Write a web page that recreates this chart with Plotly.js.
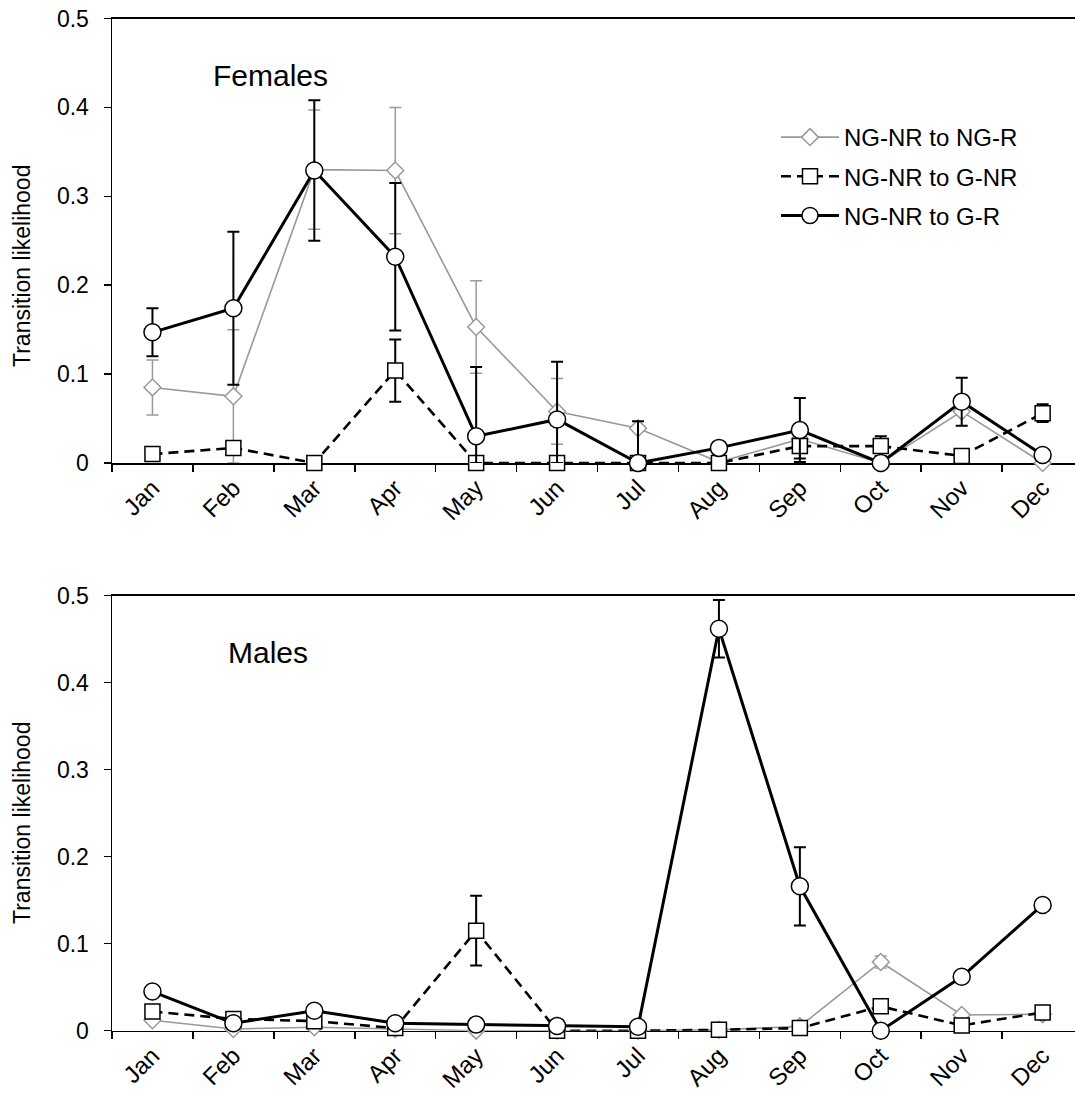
<!DOCTYPE html>
<html>
<head>
<meta charset="utf-8">
<script src="https://cdn.plot.ly/plotly-3.0.1.min.js"></script>
<style>html,body{margin:0;padding:0;background:#fff;}#chart{width:1075px;height:1097px;}</style>
</head>
<body>
<div id="chart"></div>
<script>
// ---------- data ----------
const months = ['Jan','Feb','Mar','Apr','May','Jun','Jul','Aug','Sep','Oct','Nov','Dec'];
const seriesNames = ['NG-NR to NG-R','NG-NR to G-NR','NG-NR to G-R'];

// Females
const fNGR      = [0.085, 0.075, 0.330, 0.329, 0.153, 0.058, 0.039, 0.001, 0.027, 0.000, 0.058, 0.000];
const fNGRerr   = [0.031, 0.075, 0.067, 0.071, 0.052, 0.037, 0,     0,     0,     0,     0,     0];
const fGNR      = [0.010, 0.017, 0.000, 0.104, 0.000, 0.000, 0.000, 0.000, 0.019, 0.019, 0.008, 0.056];
const fGNRerr   = [0,     0,     0,     0.035, 0,     0,     0,     0,     0.014, 0.011, 0,     0.010];
const fGR       = [0.147, 0.174, 0.329, 0.232, 0.030, 0.049, 0.000, 0.017, 0.037, 0.000, 0.069, 0.009];
const fGRerrUp  = [0.027, 0.086, 0.079, 0.083, 0.078, 0.065, 0.047, 0,     0.036, 0,     0.027, 0];
const fGRerrDn  = [0.027, 0.086, 0.079, 0.083, 0.030, 0.049, 0,     0,     0.036, 0,     0.027, 0];

// Males
const mNGR      = [0.012, 0.002, 0.004, 0.002, 0.000, 0.000, 0.000, 0.001, 0.005, 0.079, 0.018, 0.019];
const mNGRerr   = [0,     0,     0,     0,     0,     0,     0,     0,     0,     0.007, 0,     0];
const mGNR      = [0.022, 0.0135,0.011, 0.003, 0.115, 0.000, 0.000, 0.001, 0.003, 0.028, 0.006, 0.021];
const mGNRerr   = [0,     0,     0,     0,     0.040, 0,     0,     0,     0,     0,     0,     0];
const mGR       = [0.045, 0.0085,0.023, 0.0085,0.007, 0.0055,0.0046,0.462, 0.166, 0.000, 0.062, 0.1445];
const mGRerr    = [0,     0,     0,     0,     0,     0,     0,     0.033, 0.045, 0,     0,     0];

const yTicks = [0, 0.1, 0.2, 0.3, 0.4, 0.5];
const yTickText = ['0','0.1','0.2','0.3','0.4','0.5'];

// ---------- styles ----------
const GREY = '#999999';
const FONT = 'Liberation Sans, Arial, sans-serif';

function diamondTrace(y, err, xa, ya, show){
  return {x: months, y: y, xaxis: xa, yaxis: ya, name: seriesNames[0], legendgroup: 'g1', showlegend: show,
    type: 'scatter', mode: 'lines+markers', cliponaxis: false,
    line: {color: GREY, width: 1.6},
    marker: {symbol: 'diamond', size: 13, color: '#ffffff', line: {color: GREY, width: 1.5}},
    error_y: {type: 'data', array: err, visible: true, color: GREY, thickness: 1.5, width: 6}};
}
function squareTrace(y, err, xa, ya, show){
  return {x: months, y: y, xaxis: xa, yaxis: ya, name: seriesNames[1], legendgroup: 'g2', showlegend: show,
    type: 'scatter', mode: 'lines+markers', cliponaxis: false,
    line: {color: '#000000', width: 2.6, dash: '10px,6px'},
    marker: {symbol: 'square', size: 15, color: '#ffffff', line: {color: '#000000', width: 1.5}},
    error_y: {type: 'data', array: err, visible: true, color: '#000000', thickness: 2, width: 6}};
}
function circleTrace(y, errUp, errDn, xa, ya, show){
  return {x: months, y: y, xaxis: xa, yaxis: ya, name: seriesNames[2], legendgroup: 'g3', showlegend: show,
    type: 'scatter', mode: 'lines+markers', cliponaxis: false,
    line: {color: '#000000', width: 3},
    marker: {symbol: 'circle', size: 17, color: '#ffffff', line: {color: '#000000', width: 1.5}},
    error_y: {type: 'data', symmetric: false, array: errUp, arrayminus: errDn, visible: true, color: '#000000', thickness: 2, width: 6}};
}

const traces = [
  diamondTrace(fNGR, fNGRerr, 'x', 'y', true),
  squareTrace(fGNR, fGNRerr, 'x', 'y', true),
  circleTrace(fGR, fGRerrUp, fGRerrDn, 'x', 'y', true),
  diamondTrace(mNGR, mNGRerr, 'x2', 'y2', false),
  squareTrace(mGNR, mGNRerr, 'x2', 'y2', false),
  circleTrace(mGR, mGRerr, mGRerr, 'x2', 'y2', false)
];

const H = 1097, W = 1075, L = 112;
function py(p){ return 1 - p / H; }
function px(p){ return (p - L) / (W - L); }

function xAxis(anchor){
  return {anchor: anchor, type: 'category', range: [-0.5, 11.4], showline: true, mirror: true,
    linecolor: '#000000', linewidth: 1.5, ticks: 'outside', tickson: 'boundaries', ticklen: 7,
    tickwidth: 1.5, tickcolor: '#000000', tickangle: -45, showgrid: false, zeroline: false,
    tickfont: {family: FONT, size: 24, color: '#000000'}, automargin: false, layer: 'below traces', fixedrange: true};
}
function yAxis(anchor, dom){
  return {anchor: anchor, domain: dom, range: [0, 0.5], showline: true, linecolor: '#000000', linewidth: 1.5,
    ticks: 'outside', ticklen: 7, tickwidth: 1.5, tickcolor: '#000000', tickvals: yTicks, ticktext: yTickText,
    showgrid: false, zeroline: false, ticklabelstandoff: 10,
    tickfont: {family: FONT, size: 23, color: '#000000'}, automargin: false, layer: 'below traces', fixedrange: true};
}

const layout = {
  width: W, height: H,
  margin: {l: L, r: 0, t: 0, b: 0, pad: 0},
  paper_bgcolor: '#ffffff', plot_bgcolor: '#ffffff',
  font: {family: FONT, color: '#000000'},
  xaxis: xAxis('y'),
  yaxis: yAxis('x', [py(463), py(18.5)]),
  xaxis2: xAxis('y2'),
  yaxis2: yAxis('x2', [py(1030.7), py(595.7)]),
  showlegend: true,
  legend: {x: px(776), y: py(115), xanchor: 'left', yanchor: 'top', bgcolor: 'rgba(0,0,0,0)',
    font: {family: FONT, size: 24, color: '#000000'}, itemwidth: 58, tracegroupgap: 5, traceorder: 'grouped'},
  annotations: [
    {text: 'Females', xref: 'paper', yref: 'paper', x: px(211), y: py(75), xanchor: 'left', yanchor: 'middle',
      showarrow: false, font: {family: FONT, size: 30, color: '#000000'}},
    {text: 'Males', xref: 'paper', yref: 'paper', x: px(226), y: py(652), xanchor: 'left', yanchor: 'middle',
      showarrow: false, font: {family: FONT, size: 30, color: '#000000'}},
    {text: 'Transition likelihood', xref: 'paper', yref: 'paper', x: px(22), y: py(266), xanchor: 'center', yanchor: 'middle',
      textangle: -90, showarrow: false, font: {family: FONT, size: 23, color: '#000000'}},
    {text: 'Transition likelihood', xref: 'paper', yref: 'paper', x: px(22), y: py(823), xanchor: 'center', yanchor: 'middle',
      textangle: -90, showarrow: false, font: {family: FONT, size: 23, color: '#000000'}}
  ]
};

Plotly.newPlot('chart', traces, layout, {staticPlot: true, displayModeBar: false});
</script>
</body>
</html>
